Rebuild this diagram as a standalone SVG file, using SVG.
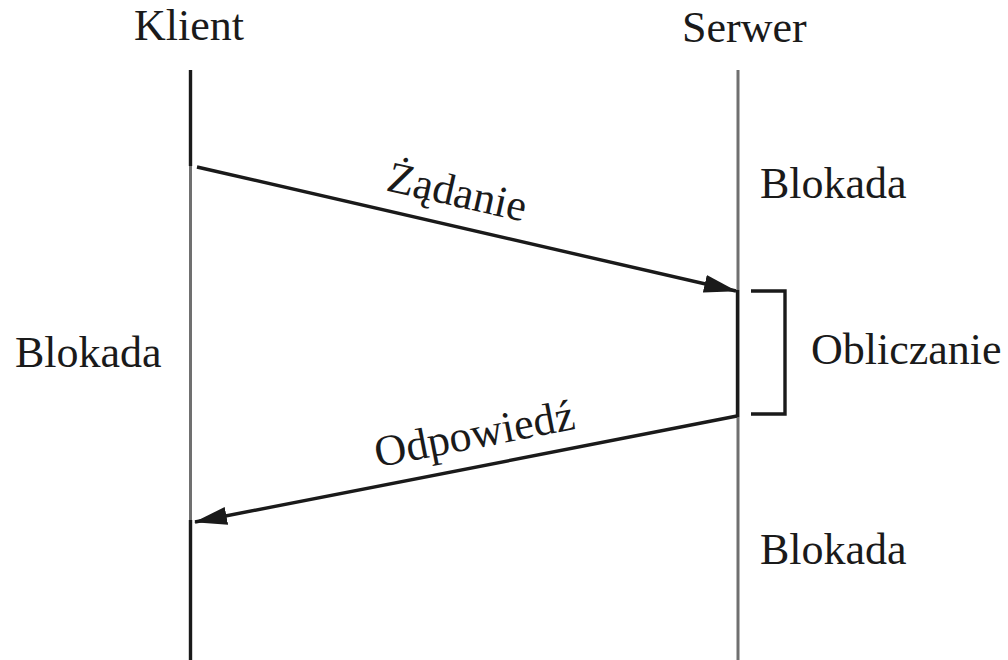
<svg xmlns="http://www.w3.org/2000/svg" width="1008" height="660" viewBox="0 0 1008 660">
<defs>
<style>
.t{font-family:"Liberation Serif","Times New Roman",serif;font-size:44px;fill:#1a1a1a}
.blk{stroke:#1a1a1a;stroke-width:3.4;fill:none}
.gry{stroke:#707070;stroke-width:3;fill:none}
</style>
<marker id="ah" markerUnits="userSpaceOnUse" viewBox="0 0 33 18" refX="32" refY="9" markerWidth="33" markerHeight="18" orient="auto">
<path d="M0,0 L33,9 L0,18 Z" fill="#1a1a1a"/>
</marker>
</defs>
<rect width="1008" height="660" fill="#ffffff"/>
<g id="klient">
<text class="t" x="189" y="40" text-anchor="middle">Klient</text>
<line class="blk" x1="190.5" y1="70" x2="190.5" y2="166"/>
<line class="gry" x1="190.5" y1="166" x2="190.5" y2="520"/>
<line class="blk" x1="190.5" y1="520" x2="190.5" y2="660"/>
<text class="t" x="15" y="367">Blokada</text>
</g>
<g id="serwer">
<text class="t" x="682" y="42">Serwer</text>
<line class="gry" x1="738" y1="70" x2="738" y2="660" stroke-width="2.7"/>
<line class="blk" x1="737.5" y1="290" x2="737.5" y2="417"/>
<text class="t" x="760" y="198">Blokada</text>
<text class="t" x="760" y="564">Blokada</text>
</g>
<g id="obliczanie">
<path class="blk" d="M751,291 H785 V414 H751"/>
<text class="t" x="811" y="364">Obliczanie</text>
</g>
<g id="connectors">
<line class="blk" x1="197" y1="167" x2="736" y2="291" marker-end="url(#ah)"/>
<text class="t" x="454" y="206" text-anchor="middle" transform="rotate(12.8 454 206)">Żądanie</text>
<line class="blk" x1="737" y1="416" x2="195" y2="522" marker-end="url(#ah)"/>
<text class="t" x="477" y="448" text-anchor="middle" transform="rotate(-11 477 448)">Odpowiedź</text>
</g>
</svg>
